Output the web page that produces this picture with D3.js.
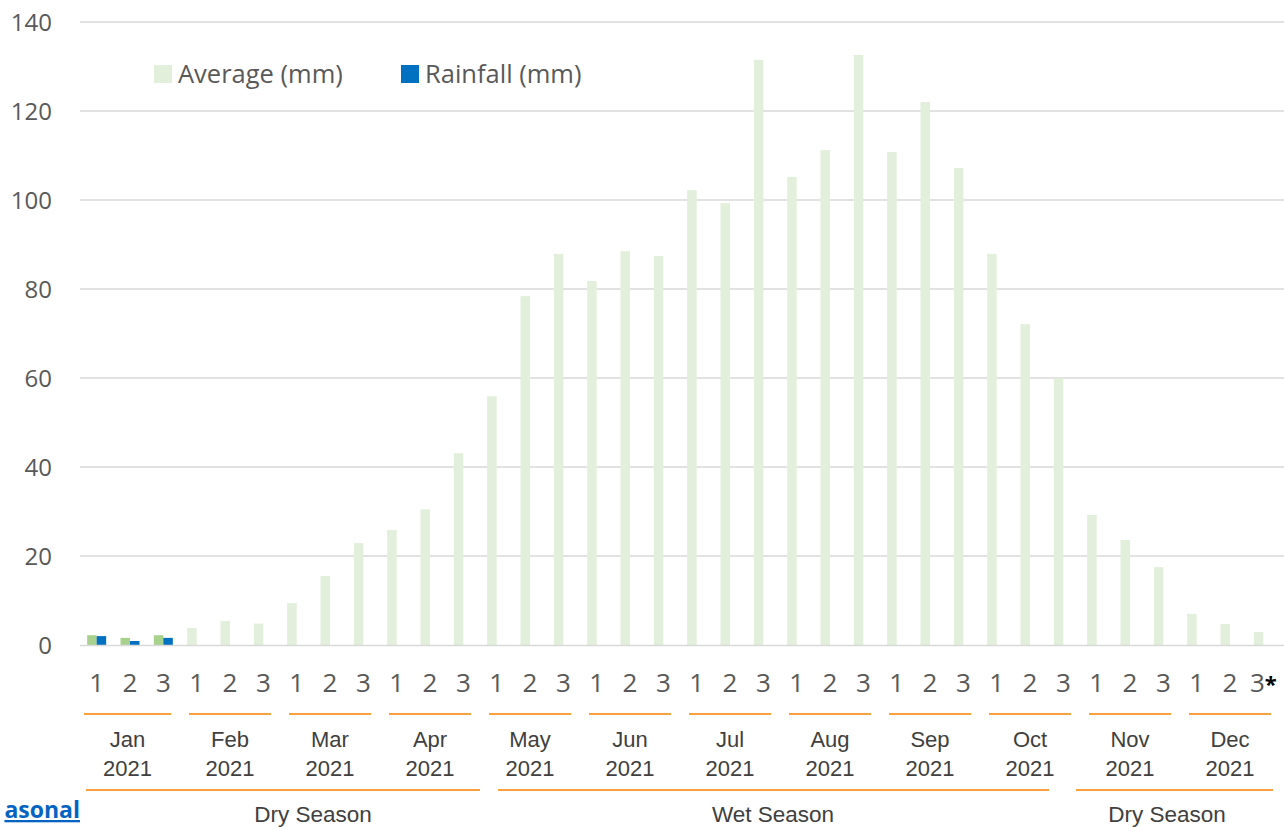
<!DOCTYPE html>
<html><head><meta charset="utf-8">
<script src="https://cdn.jsdelivr.net/npm/d3@7"></script>
<style>
html,body{margin:0;padding:0;background:#fff;}
svg{display:block;}
</style></head>
<body>
<svg id="chart" width="1284" height="827"></svg>
<script>
const months = ["Jan","Feb","Mar","Apr","May","Jun","Jul","Aug","Sep","Oct","Nov","Dec"];
const year = "2021";
const dekads = ["1","2","3"];
const averageMM = [2.2,1.6,2.2, 3.8,5.4,4.8, 9.4,15.5,22.9, 25.8,30.5,43.1,
  55.9,78.4,87.9, 81.8,88.5,87.4, 102.2,99.3,131.5, 105.2,111.2,132.6,
  110.8,122.0,107.2, 87.9,72.1,60.0, 29.2,23.6,17.5, 7.0,4.7,2.9];
const rainfallMM = [2.0,0.9,1.6];
const yTicks = [0,20,40,60,80,100,120,140];
const seasons = [{name:"Dry Season", from:0, to:3},{name:"Wet Season", from:4, to:9},{name:"Dry Season", from:10, to:11}];

(function(){
const svg = d3.select("#chart");
const pLeft = 80, pRight = 1280, pTop = 22, pBottom = 645;
const keys = [];
months.forEach((m,i)=>dekads.forEach(d=>keys.push(m+"-"+d)));
const x = d3.scaleBand().domain(keys).range([pLeft,pRight]).padding(0);
const y = d3.scaleLinear().domain([0,140]).range([pBottom,pTop]);
const bw = 9.5;
const numFont = "'Open Sans', 'Noto Sans', sans-serif";
const armFont = "'Liberation Sans', Arial, sans-serif";

// gridlines
svg.append("g").selectAll("line").data(yTicks.filter(t=>t>0)).join("line")
  .attr("x1",pLeft).attr("x2",1284).attr("y1",d=>y(d)).attr("y2",d=>y(d))
  .attr("stroke","#d9d9d9").attr("stroke-width",1.3);

// y labels
svg.append("g").selectAll("text").data(yTicks).join("text")
  .attr("x",52).attr("y",d=>y(d)+8.5).attr("text-anchor","end")
  .attr("font-family",numFont).attr("font-size",24).attr("fill","#595959").text(d=>d);

// average bars
svg.append("g").selectAll("rect").data(averageMM).join("rect")
  .attr("x",(d,i)=>x.bandwidth()/2 + x(keys[i]) - bw)
  .attr("y",d=>y(d)).attr("width",bw).attr("height",d=>y(0)-y(d))
  .attr("fill",(d,i)=> i<rainfallMM.length ? "#a9d18e" : "#e2efda");

// rainfall bars
svg.append("g").selectAll("rect").data(rainfallMM).join("rect")
  .attr("x",(d,i)=>x.bandwidth()/2 + x(keys[i]))
  .attr("y",d=>y(d)).attr("width",bw).attr("height",d=>y(0)-y(d))
  .attr("fill","#0070c0");

// axis line
svg.append("line").attr("x1",pLeft).attr("x2",1284).attr("y1",pBottom+0.5).attr("y2",pBottom+0.5)
  .attr("stroke","#d9d9d9").attr("stroke-width",1.5);

// dekad labels
const dl = svg.append("g").selectAll("text").data(keys).join("text")
  .attr("x",d=>x(d)+x.bandwidth()/2).attr("y",692)
  .attr("text-anchor","middle").attr("font-family",numFont).attr("font-size",26).attr("fill","#595959")
  .text(d=>d.split("-")[1]);
dl.filter((d,i)=>i===keys.length-1).append("tspan").text("*")
  .attr("fill","#000").attr("font-weight","bold").attr("dx",0).attr("font-size",22);

// month lines & labels
months.forEach((m,i)=>{
  const s = x(m+"-1");
  const x1 = s + (i===0?4:9), x2 = s + 91;
  svg.append("line").attr("x1",x1).attr("x2",x2).attr("y1",714).attr("y2",714)
    .attr("stroke","#f9a13a").attr("stroke-width",2.2);
  const cx = (x1+x2)/2;
  svg.append("text").attr("x",cx).attr("y",747).attr("text-anchor","middle")
    .attr("font-family",armFont).attr("font-size",22).attr("fill","#404040").text(m);
  svg.append("text").attr("x",cx).attr("y",776).attr("text-anchor","middle")
    .attr("font-family",armFont).attr("font-size",22).attr("fill","#404040").text(year);
});

// season lines
const seasonX = [[86,480],[498,1049],[1076,1273]];
seasons.forEach((s,i)=>{
  const x1 = seasonX[i][0], x2 = seasonX[i][1];
  svg.append("line").attr("x1",x1).attr("x2",x2).attr("y1",790).attr("y2",790)
    .attr("stroke","#f9a13a").attr("stroke-width",2.2);
  const lx = [313,773,1167][i];
  svg.append("text").attr("x",lx).attr("y",822).attr("text-anchor","middle")
    .attr("font-family",armFont).attr("font-size",22.5).attr("fill","#404040").text(s.name);
});

// legend
const legend = [{label:"Average (mm)", color:"#e2efda", x:154},{label:"Rainfall (mm)", color:"#0070c0", x:401}];
legend.forEach(l=>{
  svg.append("rect").attr("x",l.x).attr("y",65).attr("width",18).attr("height",18).attr("fill",l.color);
  svg.append("text").attr("x",l.x+24).attr("y",83)
    .attr("font-family",numFont).attr("font-size",25.5).attr("fill","#595959").text(l.label);
});

// link text fragment at bottom-left (visible part as in reference)
svg.append("text").attr("x",80).attr("y",818).attr("text-anchor","end")
  .attr("font-family",numFont).attr("font-size",23).attr("font-weight","bold").attr("fill","#0563c1")
  .attr("text-decoration","underline").text("asonal");
})();
</script>
</body></html>
